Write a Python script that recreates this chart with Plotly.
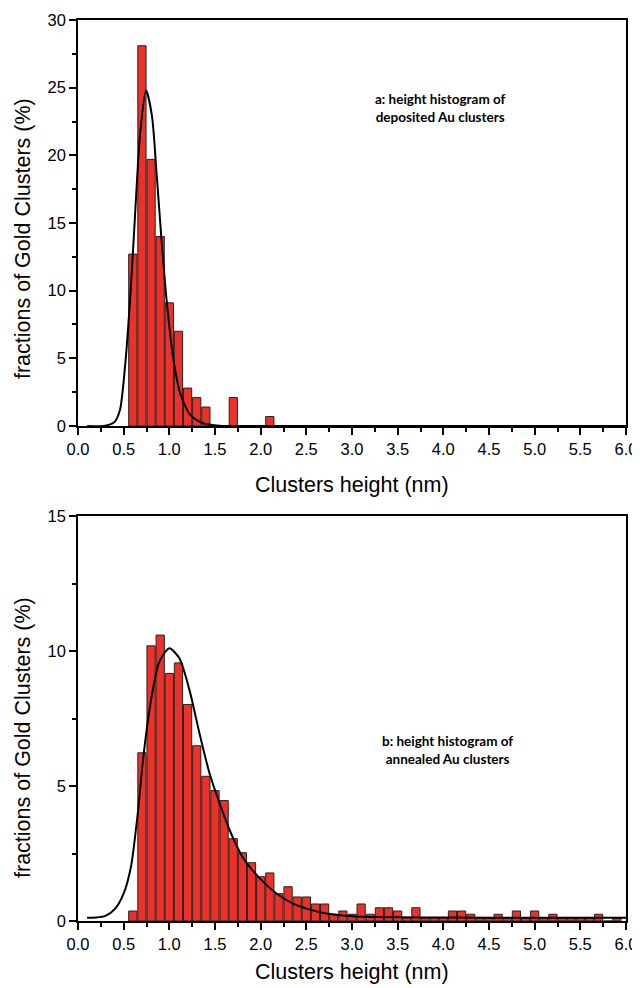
import plotly.graph_objects as go
from plotly.subplots import make_subplots

# panel a: deposited clusters
dep_x = [0.6, 0.7, 0.8, 0.9, 1.0, 1.1, 1.2, 1.3, 1.4, 1.7, 2.1]
dep_pct = [12.7, 28.1, 19.7, 14.0, 9.1, 7.0, 2.8, 2.1, 1.4, 2.1, 0.7]

dep_fit_x = [0.1, 0.3, 0.4, 0.46, 0.515, 0.57, 0.624, 0.68, 0.745, 0.81, 0.86,
             0.915, 0.97, 1.045, 1.12, 1.23, 1.37, 1.55, 2.0, 6.0]
dep_fit_y = [0, 0.02, 0.3, 1.2, 4.4, 9.3, 15.5, 21.6, 24.8, 22.9, 18.7,
             13.7, 9.3, 4.9, 2.4, 0.8, 0.2, 0.02, 0, 0]

# panel b: annealed clusters
ann_x = [0.6, 0.7, 0.8, 0.9, 1.0, 1.1, 1.2, 1.3, 1.4, 1.5, 1.6, 1.7, 1.8, 1.9,
         2.0, 2.1, 2.2, 2.3, 2.4, 2.5, 2.6, 2.7, 2.8, 2.9, 3.0, 3.1, 3.2, 3.3,
         3.4, 3.5, 3.6, 3.7, 3.8, 3.9, 4.0, 4.1, 4.2, 4.3, 4.4, 4.5, 4.6, 4.7,
         4.8, 4.9, 5.0, 5.1, 5.2, 5.3, 5.4, 5.5, 5.6, 5.7, 5.8, 5.9]
ann_pct = [0.37, 6.23, 10.19, 10.59, 9.17, 9.56, 8.02, 6.49, 5.36, 4.83, 4.46,
           3.05, 2.53, 2.16, 1.64, 1.78, 1.01, 1.27, 0.89, 0.89, 0.63, 0.63,
           0.25, 0.37, 0.25, 0.63, 0.25, 0.49, 0.49, 0.37, 0.12, 0.49, 0.12,
           0.12, 0.12, 0.37, 0.37, 0.25, 0.12, 0.12, 0.25, 0.12, 0.37, 0.12,
           0.37, 0.12, 0.25, 0.12, 0.12, 0.12, 0.12, 0.25, 0, 0.12]

ann_fit_x = [0.1, 0.2, 0.3, 0.41, 0.5, 0.58, 0.65, 0.72, 0.8, 0.89, 1.0, 1.11,
             1.22, 1.33, 1.44, 1.55, 1.66, 1.8, 1.99, 2.17, 2.35, 2.53, 2.72,
             3.0, 3.5, 4.0, 5.0, 6.0]
ann_fit_y = [0.12, 0.13, 0.19, 0.47, 1.02, 2.01, 3.86, 6.21, 8.19, 9.6, 10.1,
             9.73, 8.56, 6.95, 5.47, 4.36, 3.37, 2.38, 1.58, 1.03, 0.65, 0.43,
             0.28, 0.18, 0.14, 0.13, 0.12, 0.12]

bar_red = "#EE3128"
font_axis = "Liberation Sans, Arial, sans-serif"

fig = make_subplots(rows=2, cols=1)

fig.add_trace(go.Bar(x=dep_x, y=dep_pct, width=0.09,
                     marker=dict(color=bar_red, line=dict(color="#222", width=1))),
              row=1, col=1)
fig.add_trace(go.Scatter(x=dep_fit_x, y=dep_fit_y, mode="lines",
                         line=dict(color="black", width=2, shape="spline", smoothing=0.7)),
              row=1, col=1)
fig.add_trace(go.Bar(x=ann_x, y=ann_pct, width=0.09,
                     marker=dict(color=bar_red, line=dict(color="#222", width=1))),
              row=2, col=1)
fig.add_trace(go.Scatter(x=ann_fit_x, y=ann_fit_y, mode="lines",
                         line=dict(color="black", width=2, shape="spline", smoothing=0.7)),
              row=2, col=1)

xax = dict(range=[0, 6], tick0=0, dtick=0.5, tickformat=".1f", ticks="outside",
           ticklen=7, tickwidth=1.5, tickcolor="black", showline=True,
           linecolor="black", linewidth=1.5, mirror=True, showgrid=False,
           zeroline=False, automargin=False,
           minor=dict(dtick=0.25, ticklen=4, tickwidth=1.5, tickcolor="black",
                      ticks="outside", showgrid=False),
           tickfont=dict(family=font_axis, size=16.5, color="black"))
fig.update_xaxes(**xax)

yax = dict(ticks="outside", ticklen=7, tickwidth=1.5, tickcolor="black",
           showline=True, linecolor="black", linewidth=1.5, mirror=True,
           showgrid=False, zeroline=False, automargin=False,
           tickfont=dict(family=font_axis, size=16.5, color="black"))
fig.update_yaxes(**yax)
fig.update_yaxes(range=[0, 30], dtick=5,
                 minor=dict(dtick=2.5, ticklen=4, tickwidth=1.5, tickcolor="black",
                            ticks="outside", showgrid=False),
                 domain=[0.5494, 1], row=1, col=1)
fig.update_yaxes(range=[0, 15], dtick=5,
                 minor=dict(dtick=2.5, ticklen=4, tickwidth=1.5, tickcolor="black",
                            ticks="outside", showgrid=False),
                 domain=[0, 0.4495], row=2, col=1)

title_font = dict(family=font_axis, size=21.5, color="black")
note_font = dict(family="Lato, sans-serif", size=13.5, color="black")
notes = [
    dict(text="Clusters height (nm)", x=0.5, y=0.4839, font=title_font),
    dict(text="Clusters height (nm)", x=0.5, y=-0.0566, font=title_font),
    dict(text="fractions of Gold Clusters (%)", x=-0.1004, y=0.758,
         textangle=-90, font=title_font),
    dict(text="fractions of Gold Clusters (%)", x=-0.1004, y=0.2042,
         textangle=-90, font=title_font),
    dict(text="<b>a: height histogram of<br>deposited Au clusters</b>",
         x=0.6624, y=0.9023, font=note_font),
    dict(text="<b>b: height histogram of<br>annealed Au clusters</b>",
         x=0.675, y=0.1898, font=note_font),
]
for n in notes:
    fig.add_annotation(xref="paper", yref="paper", showarrow=False,
                       xanchor="center", yanchor="middle", **n)

# the page keeps the browser's 8px body margin, so the figure is 8px smaller
fig.update_layout(width=632, height=980, showlegend=False,
                  plot_bgcolor="white", paper_bgcolor="white",
                  bargap=0.1, margin=dict(l=70, r=14, t=12, b=67))

fig.write_html("out.html")
